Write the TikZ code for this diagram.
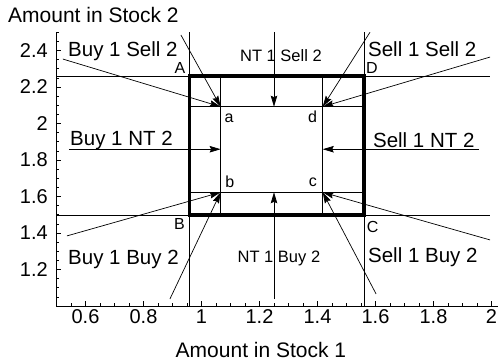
\documentclass[tikz,border=0pt]{standalone}
\usepackage{fontspec}
\setmainfont{Liberation Sans}
\usetikzlibrary{arrows.meta}

\begin{document}
\begin{tikzpicture}[x=290pt, y=182.5pt,
  >={Stealth[length=11pt, width=6.5pt, inset=1.5pt]},
  every node/.style={inner sep=0pt},
  zone/.style={font=\fontsize{20.5}{20.5}\selectfont, anchor=base west},
  ntlbl/.style={font=\fontsize{16.5}{16.5}\selectfont, anchor=base},
  corner/.style={font=\fontsize{16}{16}\selectfont},
  ticklbl/.style={font=\fontsize{20}{20}\selectfont},
  move/.style={->, line width=0.7pt}]
  \useasboundingbox (0.3052,0.6822) rectangle (2.0224,2.6767);

  % corners of the two boxes
  \coordinate (A) at (0.958,2.26);
  \coordinate (B) at (0.958,1.499);
  \coordinate (C) at (1.561,1.499);
  \coordinate (D) at (1.561,2.26);
  \coordinate (a) at (1.066,2.092);
  \coordinate (b) at (1.066,1.623);
  \coordinate (c) at (1.418,1.623);
  \coordinate (d) at (1.418,2.092);

  % axes and ticks
  \draw[line width=0.8pt] (0.5,2.5) -- (0.5,1.0) -- (2.04,1.0);
  \foreach \i in {11,...,40}
    \draw[line width=0.6pt] (\i/20,1) -- ++(0,3pt);
  \foreach \i in {21,...,50}
    \draw[line width=0.6pt] (0.5,\i/20) -- ++(3pt,0);
  \foreach \v/\t in {0.6/0.6, 0.8/0.8, 1/1, 1.2/1.2, 1.4/1.4, 1.6/1.6, 1.8/1.8, 2/2} {
    \draw[line width=0.6pt] (\v,1) -- ++(0,5pt);
    \node[ticklbl, anchor=base] (xl\t) at (\v,0.9068) {\t};
  }
  \foreach \v/\t in {1.2/1.2, 1.4/1.4, 1.6/1.6, 1.8/1.8, 2/2, 2.2/2.2, 2.4/2.4} {
    \draw[line width=0.6pt] (0.5,\v) -- ++(5pt,0);
    \node[ticklbl, anchor=east] (yl\t) at (0.4707,\v) {\t};
  }
  \node[font=\fontsize{21}{21}\selectfont, anchor=west] (ytitle) at (0.3328,2.5945) {Amount in Stock 2};
  \node[font=\fontsize{21}{21}\selectfont] (xtitle) at (1.205,0.7616) {Amount in Stock 1};

  % boundary lines through the corners
  \draw[line width=0.8pt] (0.958,1) -- (0.958,2.5);
  \draw[line width=0.8pt] (1.561,1) -- (1.561,2.5);
  \draw[line width=0.8pt] (0.5,2.26) -- (1.995,2.26);
  \draw[line width=0.8pt] (0.5,1.499) -- (1.995,1.499);

  % no-trade region and inner box
  \draw[line width=1.5pt] (a |- A) -- (a |- B);
  \draw[line width=1.5pt] (d |- A) -- (d |- B);
  \draw[line width=1.5pt] (A |- a) -- (D |- a);
  \draw[line width=1.5pt] (A |- b) -- (D |- b);
  \draw[line width=3.5pt] (B) rectangle (D);

  % starts of the trade arrows
  \coordinate (s1) at (0.522,2.353);
  \coordinate (s2) at (0.929,2.485);
  \coordinate (s3) at (1.25,2.5);
  \coordinate (s4) at (1.581,2.5);
  \coordinate (s5) at (1.995,2.364);
  \coordinate (s6) at (0.543,1.859);
  \coordinate (s7) at (1.957,1.859);
  \coordinate (s8) at (0.536,1.384);
  \coordinate (s9) at (0.891,1.038);
  \coordinate (s10) at (1.25,1.038);
  \coordinate (s11) at (1.602,1.066);
  \coordinate (s12) at (1.995,1.362);

  \draw[move] (s1) -- (a);
  \draw[move] (s2) -- (a);
  \draw[move] (s3) -- (s3 |- a);
  \draw[move] (s4) -- (d);
  \draw[move] (s5) -- (d);
  \draw[move] (s6) -- (a |- s6);
  \draw[move] (s7) -- (d |- s7);
  \draw[move] (s8) -- (b);
  \draw[move] (s9) -- (b);
  \draw[move] (s10) -- (s10 |- b);
  \draw[move] (s11) -- (c);
  \draw[move] (s12) -- (c);

  % region labels
  \node[zone] (bs) at (0.5397,2.368) {Buy 1 Sell 2};
  \node[zone] (ss) at (1.574,2.366) {Sell 1 Sell 2};
  \node[zone] (bn) at (0.5466,1.882) {Buy 1 NT 2};
  \node[zone] (sn) at (1.591,1.871) {Sell 1 NT 2};
  \node[zone] (bb) at (0.5397,1.2247) {Buy 1 Buy 2};
  \node[zone] (sb) at (1.574,1.241) {Sell 1 Buy 2};
  \node[ntlbl] (ns) at (1.274,2.337) {NT 1 Sell 2};
  \node[ntlbl] (nb) at (1.267,1.236) {NT 1 Buy 2};

  % corner letters
  \node[corner] (lA) at (0.926,2.303) {A};
  \node[corner] (lD) at (1.588,2.303) {D};
  \node[corner] (lB) at (0.924,1.449) {B};
  \node[corner] (lC) at (1.590,1.433) {C};
  \node[corner] (la) at (1.095,2.030) {a};
  \node[corner] (ld) at (1.383,2.036) {d};
  \node[corner] (lb) at (1.098,1.679) {b};
  \node[corner] (lc) at (1.384,1.677) {c};
\end{tikzpicture}
\end{document}
